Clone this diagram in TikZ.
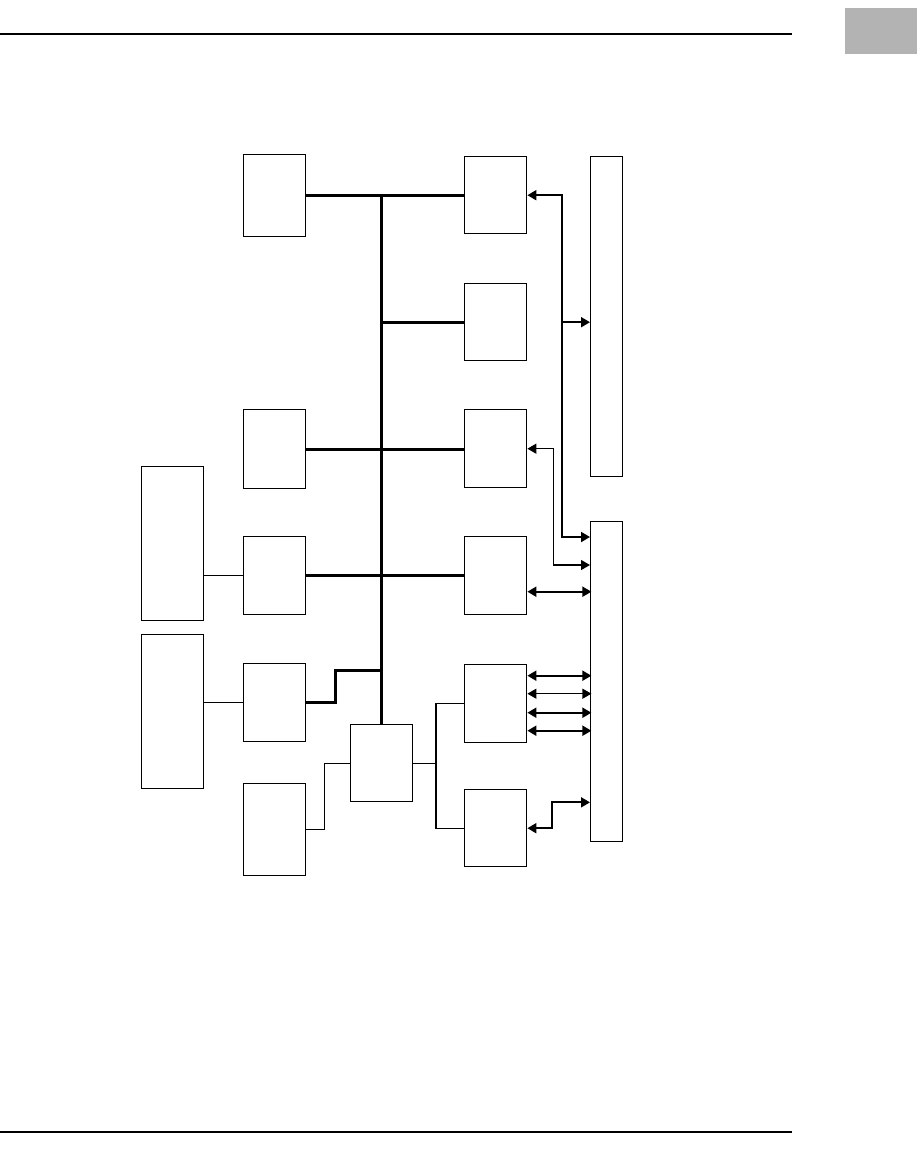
\documentclass[tikz,border=0pt]{standalone}
\usepackage{xcolor}
\usepackage{tikz}
\usetikzlibrary{arrows.meta, positioning, calc}

\definecolor{tabgray}{HTML}{B3B3B3}

\begin{document}
\begin{tikzpicture}[
    x=0.02cm, y=-0.02cm,
    blk/.style={draw, rectangle, line width=0.8pt, minimum width=1.24cm, anchor=north west, inner sep=0pt},
    tall/.style={draw, rectangle, line width=0.8pt, minimum width=0.64cm, minimum height=6.4cm, anchor=north west, inner sep=0pt},
    bus/.style={line width=1.7pt},
    link/.style={line width=0.6pt},
    sig/.style={line width=1.1pt, >={Triangle[length=0.18cm, width=0.2cm]}},
    sigthin/.style={line width=0.8pt, >={Triangle[length=0.18cm, width=0.2cm]}}
]
\useasboundingbox (0,0) rectangle (917,1157);

% Page frame
\draw [line width=1pt] (0,34) -- (792,34);
\fill [tabgray] (845,8) rectangle (917,54);
\draw [line width=1pt] (0,1132) -- (792,1132);

% Nodes
\node (a)   [blk, minimum height=1.64cm] at (243,154) {};
\node (l3)  [blk, minimum height=1.58cm] at (243,409) {};
\node (l4)  [blk, minimum height=1.56cm] at (243,536) {};
\node (l5)  [blk, minimum height=1.56cm] at (243,663) {};
\node (l6)  [blk, minimum height=1.84cm] at (243,783) {};

\node (bl1) [blk, minimum height=3.08cm] at (141,466) {};
\node (bl2) [blk, minimum height=3.08cm] at (141,634) {};

\node (c)   [blk, minimum height=1.54cm] at (350,724) {};

\node (r1)  [blk, minimum height=1.54cm] at (464,156) {};
\node (r2)  [blk, minimum height=1.54cm] at (464,283) {};
\node (r3)  [blk, minimum height=1.56cm] at (464,409) {};
\node (r4)  [blk, minimum height=1.56cm] at (464,536) {};
\node (r5)  [blk, minimum height=1.56cm] at (464,664) {};
\node (r6)  [blk, minimum height=1.54cm] at (464,789) {};

\node (t1)  [tall] at (590,156) {};
\node (t2)  [tall] at (590,521) {};

\coordinate (bj) at (382,670);
\coordinate (sp) at (436,762);

% Bus
\draw [bus] (a.east) -- (a.east -| r1.west);
\draw [bus] (c.north) -- (c.north |- a.east);
\draw [bus] (c.north |- r2.west) -- (r2.west);
\draw [bus] (l3.east) -- (l3.east -| r3.west);
\draw [bus] (l4.east) -- (r4.west);
\draw [bus] (l5.east) -- ++(29,0) |- (bj);

% Thin links
\draw [link] (bl1.east |- l4.west) -- (l4.west);
\draw [link] (bl2.east |- l5.west) -- (l5.west);
\draw [link] (l6.east) -- ++(18,0) |- (c.west);
\draw [link] (c.east) -- (c.east -| sp);
\draw [link] (r5.west) -| (sp) |- (r6.west);

% Signals
\draw [sig, <->] (r1.east) -- ++(35,0) |- ($(t2.north west)+(0,16)$);
\draw [sig, ->] ($(r2.east)+(35,0)$) -- (t1.west |- r2.east);
\draw [sigthin, <->] (r3.east) -- ++(26,0) |- ($(t2.north west)+(0,44)$);
\draw [sig, <->] ($(r4.east)+(0,16)$) -- ($(r4.east)+(64,16)$);
\foreach \dy/\w in {-28/1.1pt, -10/0.7pt, 9/1.1pt, 27/1.1pt}
    \draw [sig, line width=\w, <->] ($(r5.east)+(0,\dy)$) -- ($(r5.east)+(64,\dy)$);
\draw [sig, <->] (r6.east) -- ++(25,0) |- ($(t2.south west)+(0,-40)$);

\end{tikzpicture}
\end{document}
